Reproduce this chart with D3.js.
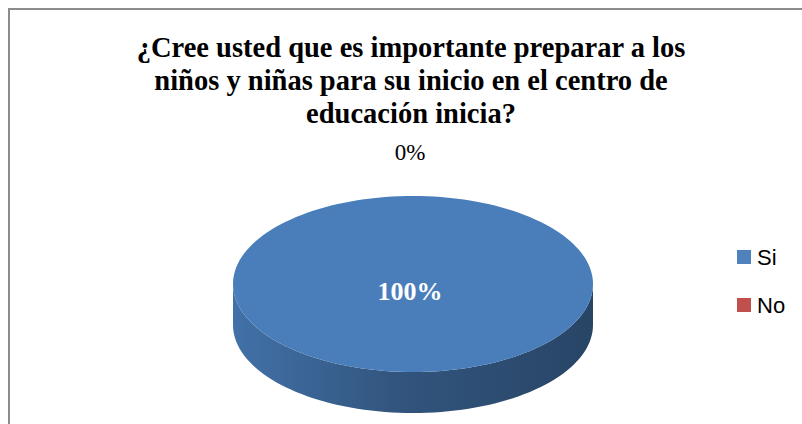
<!DOCTYPE html>
<html lang="es">
<head>
<meta charset="UTF-8">
<title>Pie</title>
<style>
  body { margin: 0; background: #fff; }
  svg { display: block; }
</style>
</head>
<body>
<svg id="chart" width="802" height="424"></svg>
<script src="https://d3js.org/d3.v7.min.js"></script>
<script>
// data
const categories = ["Si", "No"];
const values = [100, 0];
const colors = ["#4a7ebb", "#c0504d"];
const legendColors = ["#4f81bd", "#c0504d"];
const titleLines = [
  "¿Cree usted que es importante preparar a los",
  "niños y niñas para su inicio en el centro de",
  "educación inicia?"
];

const serif = "Liberation Serif";
const sans = "Liberation Sans";

const svg = d3.select("#chart");
const cx = 413, cy = 284, rx = 180, ry = 88, depth = 41;

// frame (only left and top edges show in the picture)
svg.append("path")
  .attr("d", "M9,424 V9 H802")
  .attr("fill", "none")
  .attr("stroke", "#8c8c8c")
  .attr("stroke-width", 2);

// title
svg.append("g").selectAll("text")
  .data(titleLines).enter()
  .append("text")
  .attr("x", 411)
  .attr("y", (d, i) => 57 + i * 33)
  .attr("text-anchor", "middle")
  .attr("font-family", serif)
  .attr("font-weight", "bold")
  .attr("font-size", 28.5)
  .text(d => d);

const pie = d3.pie().sort(null).startAngle(0).endAngle(2 * Math.PI);
const arcs = pie(values);
const total = d3.sum(values);

// project an angle onto the ellipse
const pt = (a, dy) => [cx + rx * Math.sin(a), cy - ry * Math.cos(a) + (dy || 0)];

const defs = svg.append("defs");
arcs.forEach((d, i) => {
  const base = d3.color(colors[i]);
  const g = defs.append("linearGradient")
    .attr("id", "side" + i)
    .attr("x1", "0%").attr("x2", "100%").attr("y1", "0%").attr("y2", "0%");
  g.append("stop").attr("offset", "0%").attr("stop-color", d3.rgb(base).darker(0.3));
  g.append("stop").attr("offset", "45%").attr("stop-color", d3.rgb(base).darker(1.1));
  g.append("stop").attr("offset", "100%").attr("stop-color", d3.rgb(base).darker(1.7));
});

// side walls (front half only: angles PI/2 .. 3PI/2)
arcs.forEach((d, i) => {
  const a0 = Math.max(d.startAngle, Math.PI / 2);
  const a1 = Math.min(d.endAngle, 3 * Math.PI / 2);
  if (a1 <= a0) return;
  const n = 80;
  const top = d3.range(n + 1).map(k => pt(a0 + (a1 - a0) * k / n));
  const bottom = d3.range(n + 1).map(k => pt(a1 - (a1 - a0) * k / n, depth));
  svg.append("path")
    .attr("d", "M" + top.concat(bottom).map(p => p.join(",")).join("L") + "Z")
    .attr("fill", "url(#side" + i + ")");
});

// top faces
arcs.forEach((d, i) => {
  if (d.endAngle - d.startAngle <= 0) return;
  const n = 160;
  const pts = d3.range(n + 1).map(k => pt(d.startAngle + (d.endAngle - d.startAngle) * k / n));
  const full = d.endAngle - d.startAngle >= 2 * Math.PI - 1e-6;
  const path = full
    ? "M" + pts.map(p => p.join(",")).join("L") + "Z"
    : "M" + cx + "," + cy + "L" + pts.map(p => p.join(",")).join("L") + "Z";
  svg.append("path")
    .attr("d", path)
    .attr("fill", colors[i]);
});

// data labels
arcs.forEach((d, i) => {
  const pct = Math.round(d.data / total * 100) + "%";
  const span = d.endAngle - d.startAngle;
  let x, y, fill, weight, size;
  if (span >= 2 * Math.PI - 1e-6) {
    x = cx - 3; y = cy + 16; fill = "#fff"; weight = "bold"; size = 26;
  } else if (span === 0) {
    const a = d.startAngle % (2 * Math.PI);
    x = cx + (rx + 20) * Math.sin(a) - 3;
    y = cy - (ry + 36) * Math.cos(a);
    fill = "#000"; weight = "normal"; size = 23;
  } else {
    const m = (d.startAngle + d.endAngle) / 2;
    x = cx + rx * 0.6 * Math.sin(m);
    y = cy - ry * 0.6 * Math.cos(m) + 8;
    fill = "#fff"; weight = "bold"; size = 26;
  }
  svg.append("text")
    .attr("x", x).attr("y", y)
    .attr("text-anchor", "middle")
    .attr("font-family", serif)
    .attr("font-weight", weight)
    .attr("font-size", size)
    .attr("fill", fill)
    .text(pct);
});

// legend
const legend = svg.append("g").attr("transform", "translate(737,250)");
const item = legend.selectAll("g")
  .data(categories).enter()
  .append("g")
  .attr("transform", (d, i) => "translate(0," + i * 48 + ")");
item.append("rect")
  .attr("width", 14).attr("height", 14)
  .attr("fill", (d, i) => legendColors[i]);
item.append("text")
  .attr("x", 20).attr("y", 15)
  .attr("font-family", sans)
  .attr("font-size", 22)
  .text(d => d);
</script>
</body>
</html>
